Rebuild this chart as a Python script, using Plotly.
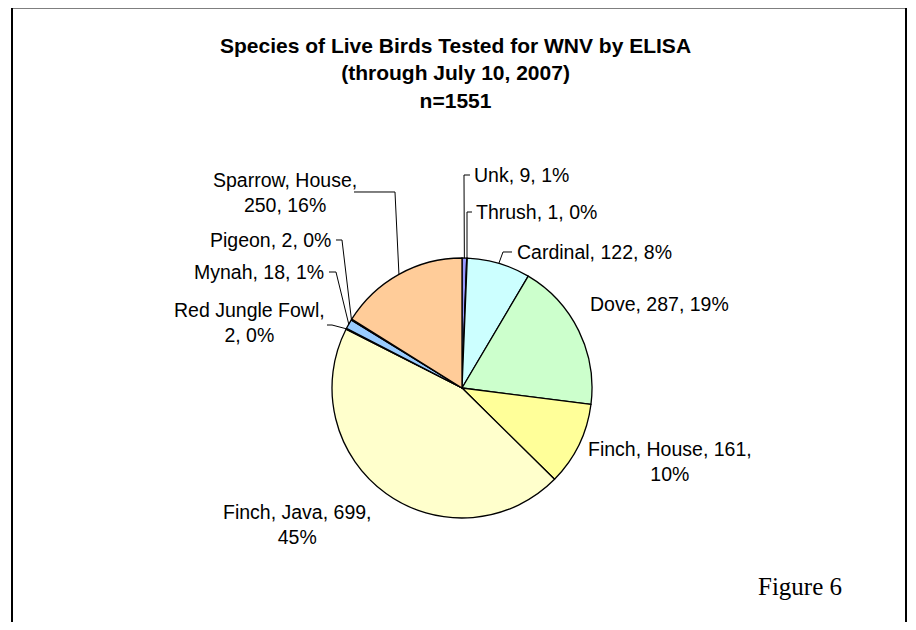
import math
import plotly.graph_objects as go

# ---- data ----
species = ["Unk", "Thrush", "Cardinal", "Dove", "Finch, House", "Finch, Java",
           "Red Jungle Fowl", "Mynah", "Pigeon", "Sparrow, House"]
counts = [9, 1, 122, 287, 161, 699, 2, 18, 2, 250]
colors = ["#9999FF", "#00CCFF", "#CCFFFF", "#CCFFCC", "#FFFF99", "#FFFFCC",
          "#FF99CC", "#99CCFF", "#CC99FF", "#FFCC99"]
title_lines = ["Species of Live Birds Tested for WNV by ELISA",
               "(through July 10, 2007)", "n=1551"]
figure_label = "Figure 6"

OFF = 8  # page body margin
W, H = 916 - OFF, 630 - 2 * OFF
CX, CY, R = 462, 388, 130
total = sum(counts)

def px(x):
    return (x - OFF) / W

def py(y):
    return 1 - (y - OFF) / H

fig = go.Figure(go.Pie(
    labels=species, values=counts, sort=False, direction="clockwise", rotation=0,
    marker=dict(colors=colors, line=dict(color="black", width=1.3)),
    textinfo="none", hoverinfo="label+value+percent",
    domain=dict(x=[px(CX - R), px(CX + R)], y=[py(CY + R), py(CY - R)]),
    showlegend=False,
))

label_layout = {
    "Unk": (472, 175, "left", [(464, 175), (470, 175)]),
    "Thrush": (474, 212, "left", [(467, 212), (472, 212)]),
    "Cardinal": (515, 252, "left", [(503, 252), (512, 252)]),
    "Dove": (588, 304, "left", None),
    "Finch, House": (670, 461, "center", None),
    "Finch, Java": (297, 524, "center", None),
    "Red Jungle Fowl": (249, 322, "center", [(332, 325), (327, 325)]),
    "Mynah": (326, 272, "right", [(336, 272), (329, 272)]),
    "Pigeon": (333, 240, "right", [(342, 240), (336, 240)]),
    "Sparrow, House": (285, 192, "center", [(395, 192), (354, 192)]),
}
two_line = {"Finch, House", "Finch, Java", "Red Jungle Fowl", "Sparrow, House"}

shapes = []
annotations = []
cum = 0
for name, v in zip(species, counts):
    mid = (cum + v / 2) / total * 2 * math.pi
    cum += v
    pct = round(v / total * 100)
    if name in ("Finch, House", "Finch, Java"):
        text = f"{name}, {v},<br>{pct}%"
    elif name in two_line:
        text = f"{name},<br>{v}, {pct}%"
    else:
        text = f"{name}, {v}, {pct}%"
    lx, ly, anchor, leader = label_layout[name]
    annotations.append(dict(
        x=px(lx), y=py(ly), xref="paper", yref="paper", text=text, showarrow=False,
        xanchor=anchor, yanchor="middle", align="center",
        font=dict(family="Liberation Sans, Arial", size=19.5, color="black")))
    if leader:
        ex = CX + R * math.sin(mid)
        ey = CY - R * math.cos(mid)
        pts = [(ex, ey)] + leader
        path = "M " + " L ".join(f"{px(a):.5f},{py(b):.5f}" for a, b in pts)
        shapes.append(dict(type="path", xref="paper", yref="paper", path=path,
                           line=dict(color="black", width=1)))

annotations.append(dict(
    x=px(455), y=py(73), xref="paper", yref="paper",
    text="<br>".join(f"<b>{t}</b>" for t in title_lines), showarrow=False,
    xanchor="center", yanchor="middle", align="center",
    font=dict(family="Liberation Sans, Arial", size=21, color="black")))
annotations.append(dict(
    x=px(800), y=py(586), xref="paper", yref="paper", text=figure_label, showarrow=False,
    xanchor="center", yanchor="middle",
    font=dict(family="Liberation Serif, Times New Roman", size=25, color="black")))

# chart frame
shapes.append(dict(type="path", xref="paper", yref="paper",
                   path=f"M {px(12)},-0.05 L {px(12)},{py(7.5)} L {px(906)},{py(7.5)} L {px(906)},-0.05",
                   line=dict(color="black", width=2)))

fig.update_layout(
    width=W, height=H, margin=dict(l=0, r=0, t=0, b=0),
    paper_bgcolor="white", plot_bgcolor="white",
    shapes=shapes, annotations=annotations,
)
fig.write_html("out.html")
